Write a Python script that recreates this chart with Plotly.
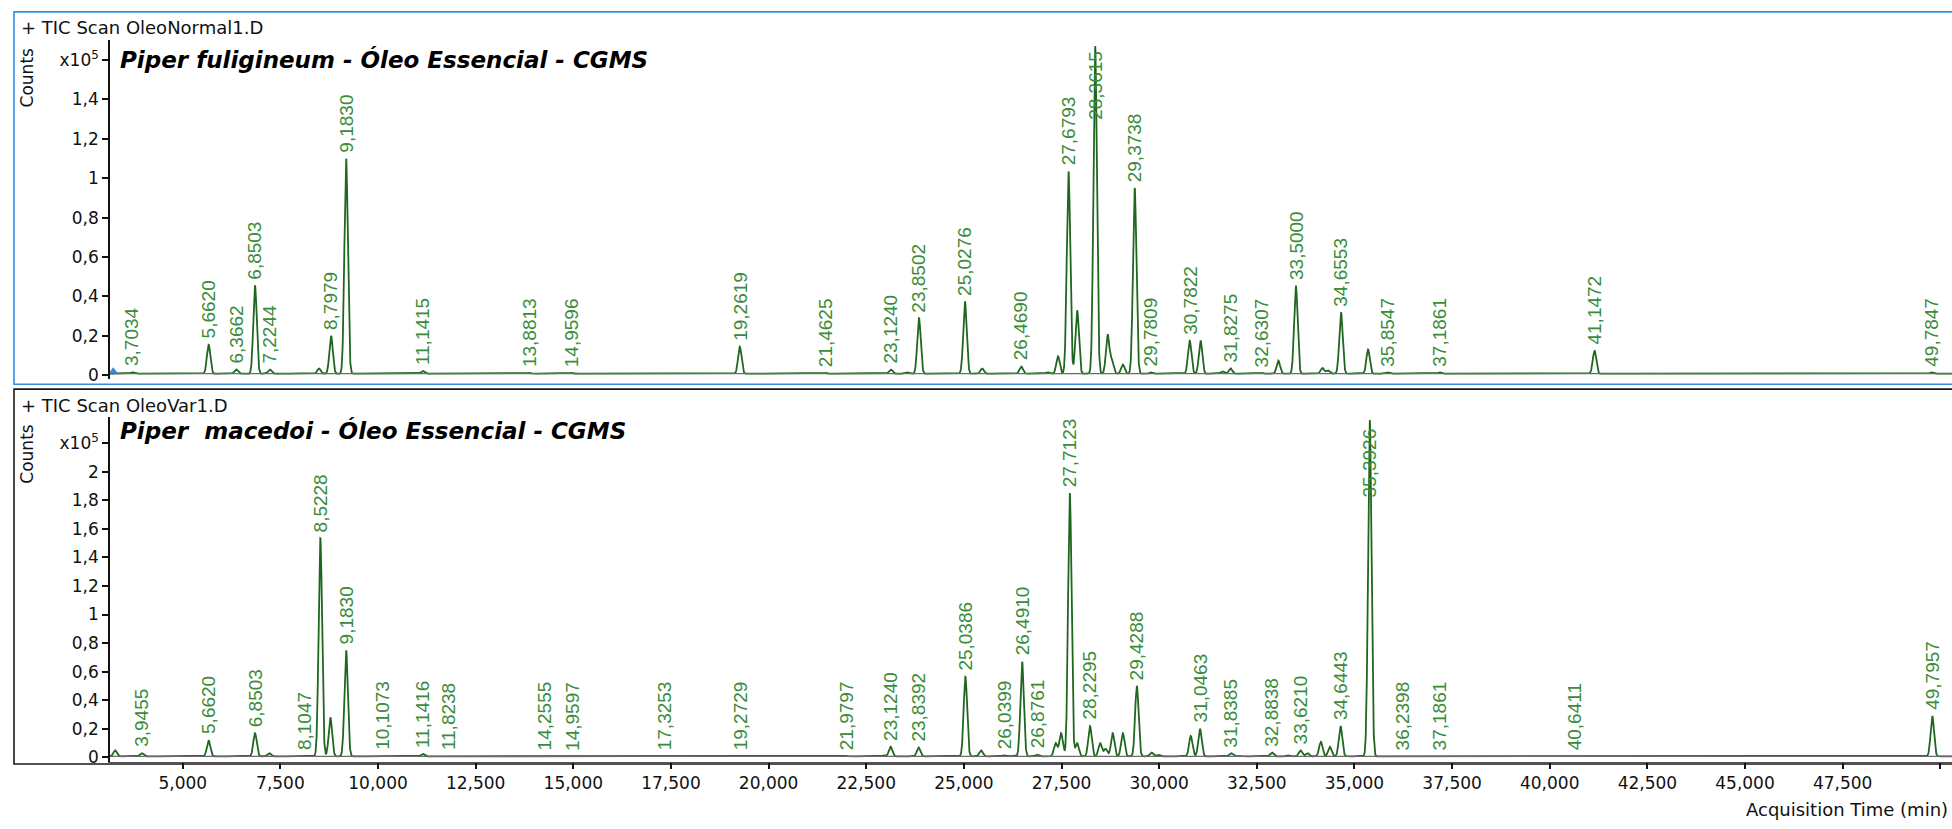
import numpy as np
import plotly.graph_objects as go

# ---------------------------------------------------------------------------
# Peak tables: retention time (min) and apex height (x10^5 counts)
# ---------------------------------------------------------------------------
# Piper fuligineum (OleoNormal1.D) - integrated / labelled peaks
normal_rt = [3.7034, 5.6620, 6.3662, 6.8503, 7.2244, 8.7979, 9.1830, 11.1415,
             13.8813, 14.9596, 19.2619, 21.4625, 23.1240, 23.8502, 25.0276,
             26.4690, 27.6793, 28.3615, 29.3738, 29.7809, 30.7822, 31.8275,
             32.6307, 33.5000, 34.6553, 35.8547, 37.1861, 41.1472, 49.7847]
normal_height = [0.015, 0.155, 0.030, 0.455, 0.030, 0.200, 1.100, 0.022,
                 0.012, 0.012, 0.146, 0.012, 0.030, 0.290, 0.375,
                 0.045, 1.035, 1.670, 0.950, 0.015, 0.176, 0.035,
                 0.012, 0.455, 0.320, 0.015, 0.015, 0.126, 0.015]
# unlabelled peaks of the same run
normal_minor_rt = [8.49, 14.35, 14.45, 22.00, 23.55, 25.47, 27.14, 27.41,
                   27.90, 28.68, 28.79, 29.07, 31.06, 31.62, 33.05, 34.18,
                   34.32, 35.35]
normal_minor_height = [0.035, 0.010, 0.010, 0.010, 0.015, 0.035, 0.015, 0.097,
                       0.330, 0.205, 0.075, 0.055, 0.176, 0.020, 0.075, 0.037,
                       0.025, 0.131]
normal_start = [3.22]

# Piper macedoi (OleoVar1.D) - integrated / labelled peaks
var_rt = [3.9455, 5.6620, 6.8503, 8.1047, 8.5228, 9.1830, 10.1073, 11.1416,
          11.8238, 14.2555, 14.9597, 17.3253, 19.2729, 21.9797, 23.1240,
          23.8392, 25.0386, 26.0399, 26.4910, 26.8761, 27.7123, 28.2295,
          29.4288, 31.0463, 31.8385, 32.8838, 33.6210, 34.6443, 35.3926,
          36.2398, 37.1861, 40.6411, 49.7957]
var_height = [0.030, 0.120, 0.170, 0.010, 1.535, 0.750, 0.010, 0.025,
              0.008, 0.006, 0.006, 0.006, 0.006, 0.012, 0.075,
              0.070, 0.565, 0.015, 0.670, 0.020, 1.850, 0.220,
              0.500, 0.200, 0.030, 0.035, 0.050, 0.220, 2.360,
              0.010, 0.010, 0.010, 0.290]
var_minor_rt = [3.27, 6.40, 7.22, 8.78, 10.76, 21.50, 22.80, 22.95, 25.44,
                26.25, 27.35, 27.49, 27.90, 28.49, 28.63, 28.81, 29.07, 29.80,
                29.98, 30.81, 32.05, 33.30, 33.80, 34.14, 34.37, 41.15]
var_minor_height = [0.050, 0.010, 0.030, 0.280, 0.010, 0.010, 0.010, 0.015,
                    0.050, 0.010, 0.100, 0.170, 0.100, 0.100, 0.060, 0.170,
                    0.170, 0.035, 0.020, 0.150, 0.012, 0.015, 0.030, 0.110,
                    0.075, 0.012]

# axis ticks
time_ticks = [5.0, 7.5, 10.0, 12.5, 15.0, 17.5, 20.0, 22.5, 25.0, 27.5, 30.0,
              32.5, 35.0, 37.5, 40.0, 42.5, 45.0, 47.5]
time_edge_tick = [50.0]
normal_yticks = [0, 0.2, 0.4, 0.6, 0.8, 1.0, 1.2, 1.4, 1.6]
var_yticks = [0, 0.2, 0.4, 0.6, 0.8, 1.0, 1.2, 1.4, 1.6, 1.8, 2.0, 2.2]

# ---------------------------------------------------------------------------
# Styling / geometry
# ---------------------------------------------------------------------------
W, H = 1952, 829
X_RANGE = [3.137, 50.3]
TOP_RANGE = [-0.02, 1.70]
BOT_RANGE = [-0.03, 2.38]
TOP_PX = (40.5, 382.0)      # plot area, top/bottom pixel rows
BOT_PX = (420.3, 767.3)
LEFT_PX = 110.0
SIGMA = 0.044               # peak width (min)
BASE = 0.008                # detector baseline
TRACE_COLOR = "#1f661f"
LABEL_COLOR = "#3a8c3a"
AXIS_FONT = "DejaVu Sans"
LABEL_FONT = "Liberation Sans"


def py(px):
    return 1 - px / H


def px_(x):
    return x / W


def comma(v, nd):
    return f"{v:.{nd}f}".replace(".", ",")


t = np.arange(X_RANGE[0], X_RANGE[1], 0.004)


def chromatogram(rts, hts):
    y = np.full_like(t, BASE)
    for r, h in zip(rts, hts):
        y += (h - BASE) * np.exp(-0.5 * ((t - r) / SIGMA) ** 2)
    return y


fig = go.Figure()

y_normal = chromatogram(normal_rt + normal_minor_rt, normal_height + normal_minor_height)
y_var = chromatogram(var_rt + var_minor_rt, var_height + var_minor_height)

fig.add_trace(go.Scatter(x=t, y=y_normal, mode="lines", xaxis="x2", yaxis="y2",
                         line=dict(color=TRACE_COLOR, width=1.8), hoverinfo="skip"))
fig.add_trace(go.Scatter(x=t, y=y_var, mode="lines", xaxis="x", yaxis="y",
                         line=dict(color=TRACE_COLOR, width=1.8), hoverinfo="skip"))
fig.add_trace(go.Scatter(x=normal_start, y=[BASE + 0.012] * len(normal_start),
                         mode="markers", xaxis="x2", yaxis="y2",
                         marker=dict(symbol="triangle-up", size=8, color="#3a86d8"),
                         hoverinfo="skip"))

# grey baselines drawn over the trace floor
shapes = []
for yref in ("y2", "y"):
    shapes.append(dict(type="line", xref="x domain", yref=yref, x0=0, x1=1,
                       y0=BASE, y1=BASE, line=dict(color="#6b6b6b", width=1.3)))

# panel frames
shapes.append(dict(type="rect", xref="paper", yref="paper",
                   x0=px_(14), x1=1.01, y0=py(387), y1=py(12),
                   line=dict(color="#3390e0", width=1.6)))
shapes.append(dict(type="rect", xref="paper", yref="paper",
                   x0=px_(14), x1=1.01, y0=py(769.5), y1=py(392),
                   line=dict(color="#1a1a1a", width=1.6)))

annotations = []


def peak_labels(rts, hts, yref, xref, yrange, pxrange):
    ppu = (pxrange[1] - pxrange[0]) / (yrange[1] - yrange[0])
    span = 64 / ppu
    gap = 5 / ppu
    for r, h in zip(rts, hts):
        y = h + gap
        anchor = "bottom"
        if y + span > yrange[1]:
            y = yrange[1] - 10 / ppu
            anchor = "top"
        annotations.append(dict(x=r, y=y, xref=xref, yref=yref, text=comma(r, 4),
                                textangle=-90, showarrow=False, xanchor="center",
                                yanchor=anchor, borderpad=0,
                                font=dict(family=LABEL_FONT, size=19, color=LABEL_COLOR)))


peak_labels(normal_rt, normal_height, "y2", "x2", TOP_RANGE, TOP_PX)
peak_labels(var_rt, var_height, "y", "x", BOT_RANGE, BOT_PX)

# panel captions
panels = [("+ TIC Scan OleoNormal1.D", "Piper fuligineum - Óleo Essencial - CGMS", 28, 60, 79),
          ("+ TIC Scan OleoVar1.D", "Piper  macedoi - Óleo Essencial - CGMS", 408, 434, 458)]
for scan, title, y_scan, y_title, y_counts in panels:
    annotations.append(dict(x=px_(19), y=py(y_scan), xref="paper", yref="paper",
                            text=scan, showarrow=False, xanchor="left", yanchor="middle",
                            font=dict(family=AXIS_FONT, size=18, color="#111")))
    annotations.append(dict(x=px_(118), y=py(y_title), xref="paper", yref="paper",
                            text=f"<b><i>{title}</i></b>", showarrow=False,
                            xanchor="left", yanchor="middle",
                            font=dict(family=AXIS_FONT, size=23, color="#000")))
    annotations.append(dict(x=px_(27), y=py(y_counts), xref="paper", yref="paper",
                            text="Counts", textangle=-90, showarrow=False,
                            xanchor="center", yanchor="middle",
                            font=dict(family=AXIS_FONT, size=17, color="#111")))

annotations.append(dict(x=px_(1950), y=py(815), xref="paper", yref="paper",
                        text="Acquisition Time (min)", showarrow=False,
                        xanchor="right", yanchor="middle",
                        font=dict(family=AXIS_FONT, size=18, color="#111")))


def ytick_text(vals):
    out = []
    for v in vals[:-1]:
        out.append(comma(v, 0) if abs(v - round(v)) < 1e-9 else comma(v, 1))
    out.append("x10<sup>5</sup>")
    return out


tick_font = dict(family=AXIS_FONT, size=17, color="#111")
xdom = [LEFT_PX / W, 1.0]

fig.update_layout(
    width=W, height=H, autosize=False,
    margin=dict(l=0, r=0, t=0, b=0),
    paper_bgcolor="white", plot_bgcolor="white",
    showlegend=False,
    shapes=shapes, annotations=annotations,
    xaxis=dict(domain=xdom, range=X_RANGE, anchor="y", showgrid=False, zeroline=False,
               showline=True, linecolor="#555", linewidth=1.2,
               ticks="outside", ticklen=6, tickwidth=1.5, tickcolor="#111",
               tickvals=time_ticks,
               ticktext=[comma(v, 3) for v in time_ticks],
               tickfont=tick_font,
               minor=dict(tickvals=time_edge_tick, ticks="outside", ticklen=6,
                          tickwidth=1.5, tickcolor="#111", showgrid=False)),
    xaxis2=dict(domain=xdom, range=X_RANGE, anchor="y2", matches="x", showgrid=False,
                zeroline=False, showline=False, showticklabels=False, ticks=""),
    yaxis=dict(domain=[py(BOT_PX[1]), py(BOT_PX[0])], range=BOT_RANGE, anchor="x",
               showgrid=False, zeroline=False, showline=True, linecolor="#111",
               linewidth=1.6, ticks="outside", ticklen=6, tickwidth=1.5, tickcolor="#111",
               tickvals=var_yticks, ticktext=ytick_text(var_yticks), tickfont=tick_font),
    yaxis2=dict(domain=[py(TOP_PX[1]), py(TOP_PX[0])], range=TOP_RANGE, anchor="x2",
                showgrid=False, zeroline=False, showline=True, linecolor="#111",
                linewidth=1.6, ticks="outside", ticklen=6, tickwidth=1.5, tickcolor="#111",
                tickvals=normal_yticks, ticktext=ytick_text(normal_yticks),
                tickfont=tick_font),
)

fig.write_html("out.html")
